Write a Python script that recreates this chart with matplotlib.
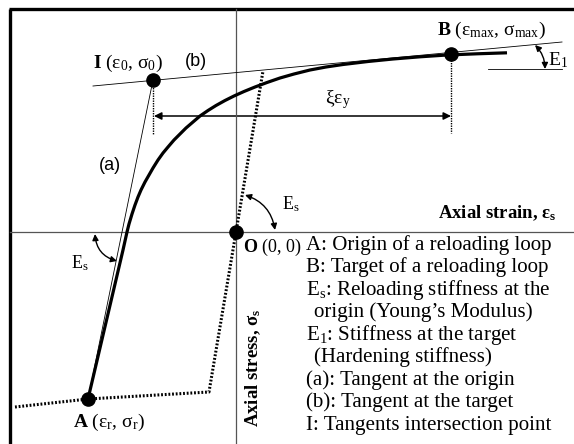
import matplotlib.pyplot as plt
from matplotlib.patches import FancyArrowPatch

plt.rcParams['font.family'] = 'Liberation Serif'
plt.rcParams['mathtext.fontset'] = 'custom'
plt.rcParams['mathtext.rm'] = 'Liberation Serif'
plt.rcParams['mathtext.it'] = 'Liberation Serif:italic'
plt.rcParams['mathtext.bf'] = 'Liberation Serif:bold'
plt.rcParams['mathtext.default'] = 'regular'

# --- schematic coordinates (strain, stress), origin at O ---
# reloading curve from A to past B
curva_eps = [-148, -113, -111, -109, -107, -104, -101, -98, -95, -91, -87, -83,
             -78, -73, -68, -62, -56, -50, -43, -36, -28, -20, -11, -2, 8, 19,
             31, 44, 58, 74, 90, 107, 132, 157, 184, 211, 241, 271]
curva_sig = [-167, -18, -9, 0, 8, 18, 27, 35, 42, 50, 57, 64,
             72, 79, 85, 92, 98, 104, 110, 116, 121.5, 126.5, 131.5, 136, 140.5, 145,
             149.5, 154, 158, 162, 165, 167.5, 170.5, 173, 175.2, 177, 178.2, 179.2]

# previous loading / unloading branch (dotted)
descarga_eps = [-221, -148, -27, 0, 27]
descarga_sig = [-175, -167, -160, 0, 161]

# key points
punto_A = (-148, -167)
punto_B = (215, 178)
punto_I = (-83, 152)
punto_O = (0, 0)

# tangent (b) through I and B
tang_b_eps = [-143, 326]
tang_b_sig = [146, 190]

# E1 reference line
ref_e1_eps = [252, 326]
ref_e1_sig = [163, 163]

# xi*eps_y span and drop lines
xi_y = 116
caida_I = [152, 97]
caida_B = [177, 99]

leyenda = [
    ("A: Origin of a reloading loop", 0),
    ("B: Target of a reloading loop", 0),
    ("$E_s$: Reloading stiffness at the", 0),
    ("origin (Young\u2019s Modulus)", 1),
    ("$E_1$: Stiffness at the target", 0),
    ("(Hardening stiffness)", 1),
    ("(a): Tangent at the origin", 0),
    ("(b): Tangent at the target", 0),
    ("I: Tangents intersection point", 0),
]

fig = plt.figure(figsize=(5.74, 4.44), dpi=100)
ax = fig.add_axes([0, 0, 1, 1])
ax.set_xlim(-236, 338)
ax.set_ylim(-212, 232)
ax.axis('off')

# frame (left and top only)
ax.plot([-226, -226], [-212, 223], color='black', lw=2.4, solid_capstyle='butt')
ax.plot([-227, 338], [223, 223], color='black', lw=2.4, solid_capstyle='butt')

# axes through O
ax.plot([0, 0], [-212, 223], color='#555555', lw=0.9)
ax.plot([-226, 338], [0, 0], color='#555555', lw=0.9)

# tangents
ax.plot([punto_I[0], punto_A[0]], [punto_I[1], punto_A[1]], color='black', lw=0.6)
ax.plot(tang_b_eps, tang_b_sig, color='black', lw=0.6)
ax.plot(ref_e1_eps, ref_e1_sig, color='black', lw=0.6)

# dotted branch
ax.plot(descarga_eps, descarga_sig, color='black', lw=2.2, linestyle=(0, (0.6, 0.6)))

# drop lines at I and B
ax.plot([punto_I[0], punto_I[0]], caida_I, color='black', lw=1.0, linestyle=(0, (1, 0.8)))
ax.plot([punto_B[0], punto_B[0]], caida_B, color='black', lw=1.0, linestyle=(0, (1, 0.8)))

# reloading curve
ax.plot(curva_eps, curva_sig, color='black', lw=2.3, solid_joinstyle='round',
        solid_capstyle='butt')

# points
for p in (punto_A, punto_B, punto_I, punto_O):
    ax.plot(p[0], p[1], 'o', color='black', ms=9.5)

# xi eps_y arrow
ax.add_patch(FancyArrowPatch((punto_I[0] + 1, xi_y), (punto_B[0], xi_y),
                             arrowstyle='<|-|>', mutation_scale=11, lw=1.1,
                             color='black', shrinkA=0, shrinkB=0))

# stiffness arcs
ax.add_patch(FancyArrowPatch((9, 37), (39, 2), connectionstyle='arc3,rad=-0.3',
                             arrowstyle='<|-|>', mutation_scale=9, lw=1.0,
                             color='black', shrinkA=0, shrinkB=0))
ax.add_patch(FancyArrowPatch((-141, -2), (-119, -29), connectionstyle='arc3,rad=0.35',
                             arrowstyle='<|-|>', mutation_scale=9, lw=1.0,
                             color='black', shrinkA=0, shrinkB=0))
ax.add_patch(FancyArrowPatch((299, 187), (309, 163), connectionstyle='arc3,rad=-0.2',
                             arrowstyle='<|-|>', mutation_scale=9, lw=1.0,
                             color='black', shrinkA=0, shrinkB=0))

# labels
ax.text(-143, 169, r"$\mathbf{I}$ ($ε_0$, $σ_0$)", fontsize=14, va='center')
ax.text(-40, 170, "(b)", fontsize=13, family='Liberation Sans', ha='center', va='center')
ax.text(-126, 67, "(a)", fontsize=13, family='Liberation Sans', ha='center', va='center')
ax.text(201, 202, r"$\mathbf{B}$ ($ε_{max}$, $σ_{max}$)", fontsize=14, va='center')
ax.text(102, 132, "$ξε_y$", fontsize=14, ha='center', va='center')
ax.text(46, 28, "$E_s$", fontsize=13, va='center')
ax.text(-156, -31, "$E_s$", fontsize=13, ha='center', va='center')
ax.text(312, 172, "$E_1$", fontsize=14, va='center')
ax.text(321, 19, "Axial strain, $ε_s$", fontsize=13.5, fontweight='bold',
        ha='right', va='center')
ax.text(17, -195, "Axial stress, $σ_s$", fontsize=13.5, fontweight='bold',
        rotation=90, ha='center', va='bottom')
ax.text(7, -15, r"$\mathbf{O}$ (0, 0)", fontsize=13, va='center')
ax.text(-163, -190, r"$\mathbf{A}$ ($ε_r$, $σ_r$)", fontsize=14, va='center')

for i, (linea, sangria) in enumerate(leyenda):
    ax.text(70 + 8 * sangria, -13 - 22.5 * i, linea, fontsize=15.1, va='center')

fig.savefig('out.png', dpi=100)
